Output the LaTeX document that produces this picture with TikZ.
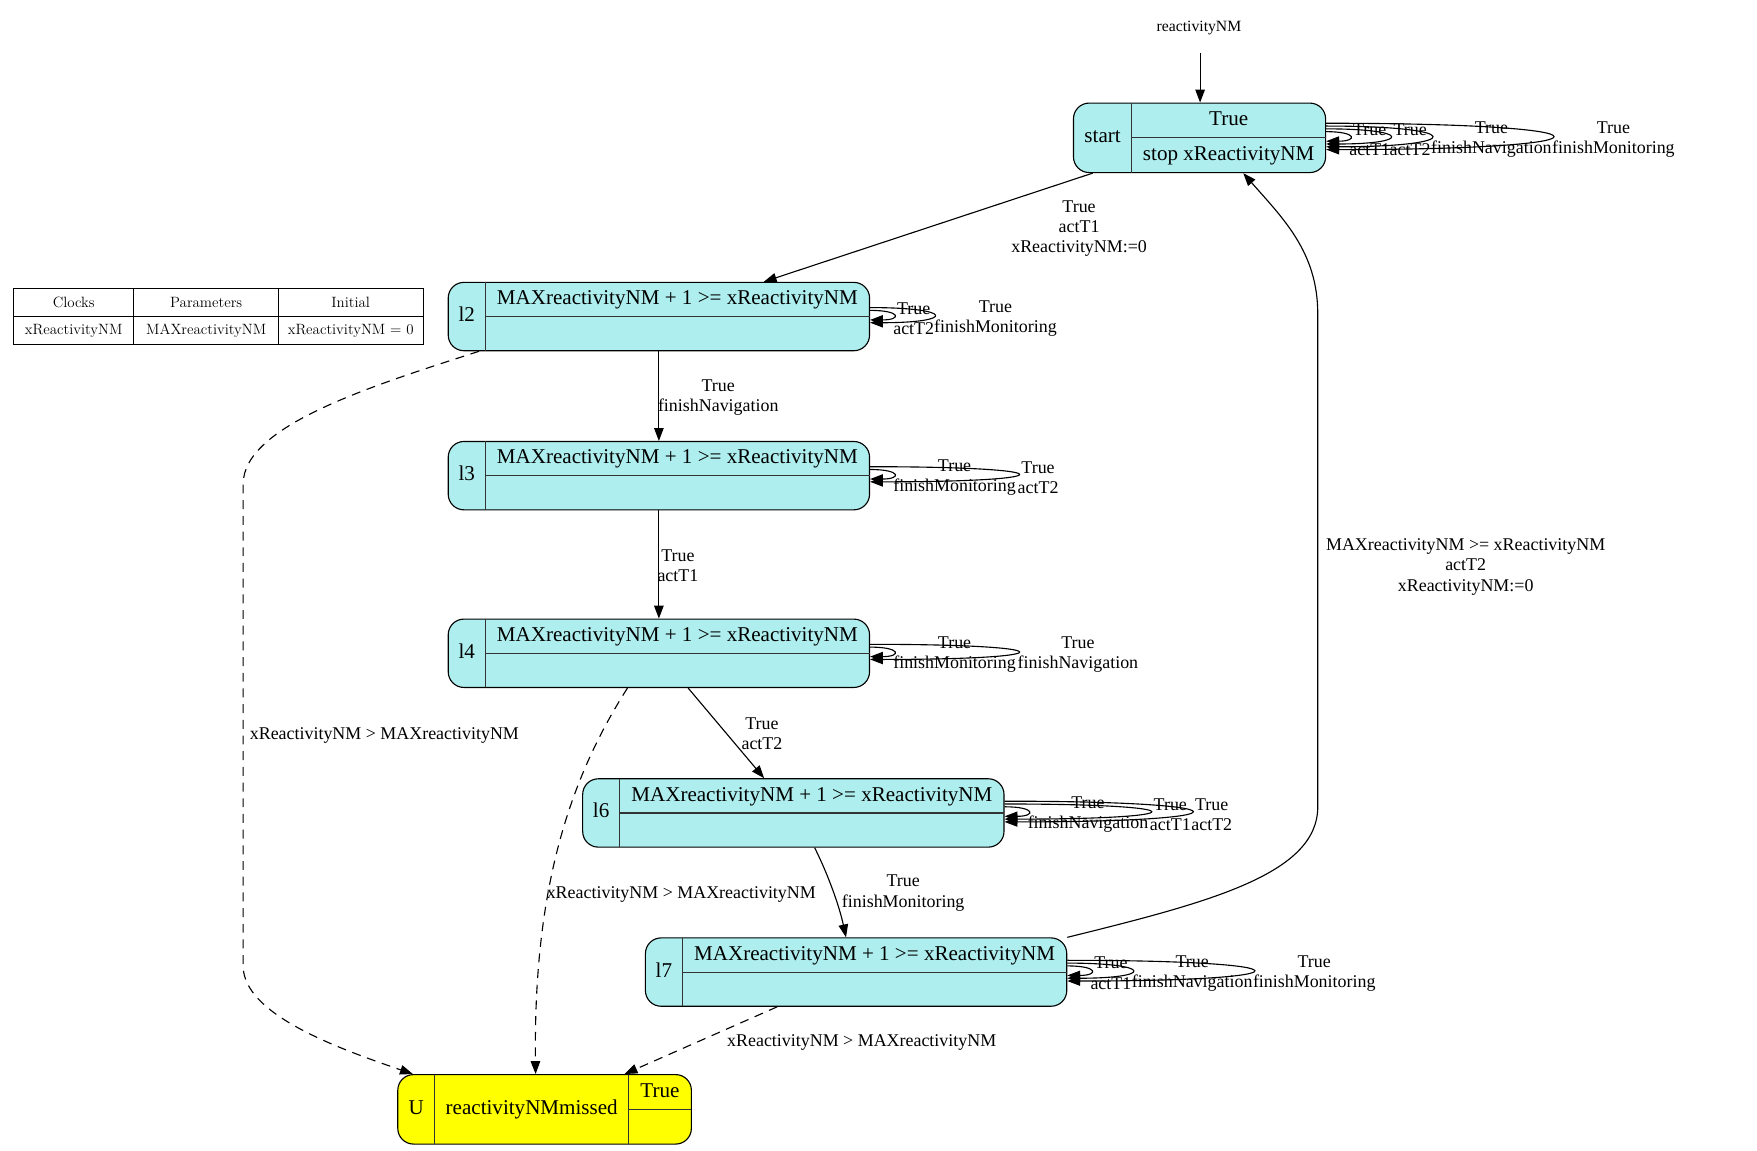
\documentclass[tikz,border=0pt]{standalone}
\usepackage{fontspec}
\newfontfamily\tfont{Liberation Serif}
\usetikzlibrary{arrows.meta}
\definecolor{locfill}{HTML}{AFEEEE}
\definecolor{ufill}{HTML}{FFFF00}
\newcommand\selfloopx[4]{\draw[arr] ([yshift=#2pt]#1.east) .. controls +(#4pt,0) and +(#4pt,0) .. ([yshift=#3pt]#1.east);}
\begin{document}
\begin{tikzpicture}[x=1pt,y=-1pt,
  loc/.style={draw, line width=1pt, fill=locfill, rounded corners=14pt, inner sep=0pt},
  bad/.style={draw, line width=1pt, fill=ufill, rounded corners=14pt, inner sep=0pt},
  div/.style={draw=black!80, line width=1pt},
  ntext/.style={font=\tfont\fontsize{18.8}{22}\selectfont, inner sep=0pt, text height=13pt, text depth=4pt},
  elab/.style={font=\tfont\fontsize{16}{18}\selectfont, align=center, inner sep=0pt, yshift=-2pt},
  llab/.style={elab, anchor=west, yshift=-0.5pt},
  tlab/.style={font=\fontsize{13.3}{15}\selectfont, inner sep=0pt},
  arr/.style={line width=1pt, -{Triangle[length=11.5pt,width=8.5pt]}},
  darr/.style={arr, dash pattern=on 8pt off 6pt}]
\useasboundingbox (0,0) rectangle (1568,1027);

% ---------- table ----------
\draw[line width=0.8pt] (12,257) rectangle (377.5,307);
\draw[line width=0.8pt] (119.5,257) -- (119.5,307) (248.5,257) -- (248.5,307) (12,282) -- (377.5,282);
\node[tlab] (th1) at (65.75,270) {Clocks};
\node[tlab] (th2) at (184,270) {Parameters};
\node[tlab] (th3) at (313,270) {Initial};
\node[tlab] (td1) at (65.75,295) {xReactivityNM};
\node[tlab] (td2) at (184,295) {MAXreactivityNM};
\node[tlab] (td3) at (313,295) {xReactivityNM = 0};

% ---------- locations ----------
\node[loc, minimum width=225pt, minimum height=62pt] (start) at (1070.5,123) {};
\draw[div] (1010,92) -- (1010,154) (1010,123) -- (1183,123);
\node[ntext] (startn) at (984,123) {start};
\node[ntext] (starti) at (1096.5,107.5) {True};
\node[ntext] (starts) at (1096.5,138.5) {stop xReactivityNM};

\node[loc, minimum width=376pt, minimum height=61pt] (l2) at (588,282.5) {};
\draw[div] (433,252) -- (433,313) (433,282.5) -- (776,282.5);
\node[ntext] (l2n) at (416.5,282.5) {l2};
\node[ntext] (l2i) at (604.5,267.5) {MAXreactivityNM + 1 >= xReactivityNM};

\node[loc, minimum width=376pt, minimum height=61pt] (l3) at (588,424.5) {};
\draw[div] (433,394) -- (433,455) (433,424.5) -- (776,424.5);
\node[ntext] (l3n) at (416.5,424.5) {l3};
\node[ntext] (l3i) at (604.5,409.5) {MAXreactivityNM + 1 >= xReactivityNM};

\node[loc, minimum width=376pt, minimum height=61pt] (l4) at (588,583) {};
\draw[div] (433,552.5) -- (433,613.5) (433,583) -- (776,583);
\node[ntext] (l4n) at (416.5,583) {l4};
\node[ntext] (l4i) at (604.5,568) {MAXreactivityNM + 1 >= xReactivityNM};

\node[loc, minimum width=376pt, minimum height=61pt] (l6) at (708,725.5) {};
\draw[div] (553,695) -- (553,756) (553,725.5) -- (896,725.5);
\node[ntext] (l6n) at (536.5,725.5) {l6};
\node[ntext] (l6i) at (724.5,710.5) {MAXreactivityNM + 1 >= xReactivityNM};

\node[loc, minimum width=376pt, minimum height=61pt] (l7) at (764,867.5) {};
\draw[div] (609,837) -- (609,898) (609,867.5) -- (952,867.5);
\node[ntext] (l7n) at (592.5,867.5) {l7};
\node[ntext] (l7i) at (780.5,852.5) {MAXreactivityNM + 1 >= xReactivityNM};

\node[bad, minimum width=262pt, minimum height=62pt] (U) at (486,990) {};
\draw[div] (388,959) -- (388,1021) (561,959) -- (561,1021) (561,990.5) -- (617,990.5);
\node[ntext] (Un) at (371.5,990) {U};
\node[ntext] (Um) at (474.5,990) {reactivityNMmissed};
\node[ntext] (Ui) at (589,975) {True};

% ---------- initial ----------
\node[font=\tfont\fontsize{14}{16}\selectfont, inner sep=0pt] (initlab) at (1070,25) {reactivityNM};
\coordinate (init) at (1071,47);
\draw[arr] (init) -- (init |- start.north);

% ---------- transitions ----------
\draw[arr] (start) -- (l2);
\node[elab] (e1) at (963,202) {True\\actT1\\xReactivityNM:=0};

\draw[arr] (l2) -- (l3);
\node[elab] (e2) at (641,353) {True\\finishNavigation};

\draw[arr] (l3) -- (l4);
\node[elab] (e3) at (605,503) {True\\actT1};

\draw[arr] (l4) -- (l6);
\node[elab] (e4) at (680,653) {True\\actT2};

\draw[arr] ([xshift=19pt]l6.south) .. controls +(12,24) and +(-6,-28) .. ([xshift=-9pt]l7.north);
\node[elab] (e5) at (806,795) {True\\finishMonitoring};

\draw[arr] (l7.north east) .. controls (1080,805) and (1176,780) .. (1176,720)
  -- (1176,280) .. controls (1176,225) and (1145,195) .. ([xshift=39pt]start.south);
\node[elab] (e6) at (1308,504) {MAXreactivityNM >= xReactivityNM\\actT2\\xReactivityNM:=0};

\draw[darr] ([xshift=28pt]l2.south west) .. controls (330,345) and (217,380) .. (217,432)
  -- (217,862) .. controls (217,905) and (300,935) .. ([xshift=14pt]U.north west);
\node[elab] (e7) at (343,654) {xReactivityNM > MAXreactivityNM};

\draw[darr] ([xshift=-28pt]l4.south) .. controls (505,700) and (476,800) .. ([xshift=-8pt]U.north);
\node[elab] (e8) at (608,796) {xReactivityNM > MAXreactivityNM};

\draw[darr] (l7) -- (U);
\node[elab] (e9) at (769,928) {xReactivityNM > MAXreactivityNM};

% ---------- self loops ----------
\selfloopx{start}{5.5}{-3}{28}
\selfloopx{start}{8}{-5.5}{76}
\selfloopx{start}{10.5}{-8}{125.3}
\selfloopx{start}{13}{-10.5}{269.3}
\node[llab] (s1) at (1204,122) {True\\actT1};
\node[llab] (s2) at (1240,122) {True\\actT2};
\node[llab] (s3) at (1277,122) {True\\finishNavigation};
\node[llab] (s4) at (1385,122) {True\\finishMonitoring};

\selfloopx{l2}{5.5}{-3}{28}
\selfloopx{l2}{8}{-5.5}{76}
\node[llab] (l2a) at (797,282) {True\\actT2};
\node[llab] (l2b) at (833.5,282) {True\\finishMonitoring};

\selfloopx{l3}{5.5}{-3}{28}
\selfloopx{l3}{8}{-5.5}{176}
\node[llab] (l3a) at (797,423.5) {True\\finishMonitoring};
\node[llab] (l3b) at (908,423.5) {True\\actT2};

\selfloopx{l4}{5.5}{-3}{28}
\selfloopx{l4}{8}{-5.5}{176}
\node[llab] (l4a) at (797,582) {True\\finishMonitoring};
\node[llab] (l4b) at (908,582) {True\\finishNavigation};

\selfloopx{l6}{5.5}{-3}{28}
\selfloopx{l6}{8}{-5.5}{173.3}
\selfloopx{l6}{10.5}{-8}{222.7}
\node[llab] (l6a) at (917,724.5) {True\\finishNavigation};
\node[llab] (l6b) at (1026,724.5) {True\\actT1};
\node[llab] (l6c) at (1063,724.5) {True\\actT2};

\selfloopx{l7}{5.5}{-3}{28}
\selfloopx{l7}{8}{-5.5}{77.3}
\selfloopx{l7}{10.5}{-8}{221.3}
\node[llab] (l7a) at (973,866) {True\\actT1};
\node[llab] (l7b) at (1010,866) {True\\finishNavigation};
\node[llab] (l7c) at (1118,866) {True\\finishMonitoring};
\end{tikzpicture}
\end{document}
